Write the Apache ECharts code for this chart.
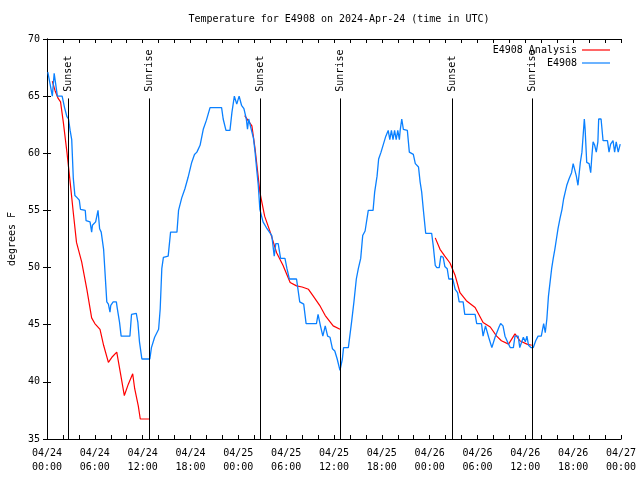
<!DOCTYPE html>
<html>
<head>
<meta charset="utf-8">
<script src="https://cdn.jsdelivr.net/npm/echarts@6/dist/echarts.min.js"></script>
<style>html,body{margin:0;padding:0;background:#fff}#c{width:640px;height:480px}</style>
</head>
<body>
<div id="c"></div>
<script>
// x values are hours since 04/24 00:00 UTC
const titleText = 'Temperature for E4908 on 2024-Apr-24 (time in UTC)';
const yAxisName = 'degrees F';
const xTickLabels = ['04/24\n00:00','04/24\n06:00','04/24\n12:00','04/24\n18:00','04/25\n00:00','04/25\n06:00','04/25\n12:00','04/25\n18:00','04/26\n00:00','04/26\n06:00','04/26\n12:00','04/26\n18:00','04/27\n00:00'];
const seriesNames = ['E4908 Analysis', 'E4908'];

const observed = [
[0.1,67.1],[0.4,66],[0.67,65],[0.9,67],[1.1,66],[1.3,65],[1.9,65],[2.2,64],[2.5,63.2],[2.7,63],[2.9,62],[3.1,61.2],[3.3,57.8],[3.5,56.3],[3.8,56.1],[4.05,55.9],[4.2,55.1],[4.8,55],[4.9,54.1],[5.4,54],[5.6,53.1],[5.7,53.7],[6.1,54],[6.4,55],[6.6,53.4],[6.8,53.1],[7.1,51.6],[7.3,49.3],[7.5,47],[7.7,46.8],[7.9,46.1],[8.0,46.7],[8.3,47],[8.7,47],[8.8,46.5],[9.1,45.2],[9.3,44],[10.4,44],[10.6,45.9],[11.2,46],[11.4,45.2],[11.6,43.5],[11.9,42],[12.9,42],[13.1,43],[13.5,43.9],[14.0,44.6],[14.2,46.4],[14.4,49.9],[14.6,50.9],[15.2,51],[15.5,53.1],[16.3,53.1],[16.5,55],[16.9,56.1],[17.3,56.9],[17.7,57.9],[18.15,59.2],[18.5,59.9],[18.8,60.1],[19.2,60.7],[19.6,62.1],[20.0,62.9],[20.45,64],[21.9,64],[22.1,63],[22.45,62],[22.95,62],[23.2,63.6],[23.5,65],[23.8,64.3],[24.1,65],[24.4,64.2],[24.7,63.9],[25.0,63],[25.15,62.1],[25.3,63],[25.5,62.9],[25.9,61.3],[26.1,60.1],[26.3,58.6],[26.5,57.2],[26.7,55.1],[27.1,54],[27.6,53.4],[28.2,52.8],[28.5,51],[28.7,52.1],[29.0,52.1],[29.3,50.8],[29.85,50.8],[30.1,49.9],[30.4,49],[31.3,49],[31.7,47],[32.2,46.8],[32.5,45.1],[33.8,45.1],[34.0,45.9],[34.3,44.9],[34.6,44],[34.9,44.9],[35.2,44],[35.5,43.9],[35.8,42.9],[36.1,42.7],[36.4,42],[36.75,41],[37.05,42],[37.2,43],[37.8,43],[38.2,45.2],[38.5,47],[38.8,49],[39.05,49.9],[39.35,50.8],[39.6,52.8],[39.9,53.2],[40.3,55],[40.9,55],[41.1,56.6],[41.4,58],[41.6,59.5],[41.9,60.1],[42.2,60.8],[42.5,61.5],[42.8,62],[43.0,61.2],[43.2,62],[43.4,61.2],[43.6,62],[43.8,61.2],[44.0,62],[44.2,61.2],[44.3,62],[44.5,63],[44.7,62.1],[45.2,62],[45.45,60.1],[45.95,59.9],[46.2,59.1],[46.6,58.8],[46.8,57.5],[47.0,56.6],[47.2,55.1],[47.4,53.7],[47.5,53],[48.25,53],[48.45,51.9],[48.7,50.2],[48.9,50],[49.2,50],[49.4,51],[49.7,50.9],[49.9,50.1],[50.2,49.9],[50.4,49],[50.9,49],[51.2,48.1],[51.5,47.8],[51.7,47],[52.2,47],[52.4,45.9],[53.7,45.9],[53.9,45.1],[54.5,45.1],[54.7,44],[55.0,44.9],[55.2,44.9],[55.4,43.9],[55.8,43],[56.0,43],[56.2,43.9],[56.4,43.9],[56.7,44.8],[56.9,45.1],[57.2,44.9],[57.45,44],[57.7,44],[57.9,43.3],[58.1,43],[58.5,43],[58.7,44],[59.1,44],[59.3,43],[59.5,43],[59.75,43.9],[60.0,43.5],[60.2,44],[60.4,43.2],[60.7,43],[61.0,43],[61.3,43.6],[61.6,44],[62.0,44],[62.3,45.1],[62.5,44.3],[62.7,45.5],[62.9,47.5],[63.1,48.7],[63.3,49.9],[63.5,50.8],[63.7,51.6],[63.9,52.5],[64.1,53.4],[64.35,54.3],[64.6,55.1],[64.8,56],[65.0,56.6],[65.2,57.2],[65.5,57.8],[65.8,58.3],[66.0,59.1],[66.2,59.1],[66.4,58],[66.6,57.2],[66.9,59.2],[67.1,60.1],[67.3,60.1],[67.4,63],[67.5,62.1],[67.7,59.2],[68.0,59.1],[68.2,58.3],[68.35,59.8],[68.5,61],[68.7,60.7],[68.9,60.1],[69.1,61],[69.2,63],[69.5,63],[69.75,61.1],[70.3,61.1],[70.5,60.1],[70.7,60.8],[71.0,61.1],[71.2,60.1],[71.4,61],[71.65,60.1],[71.9,60.8]
];

const analysis1 = [[0.67,66.3],[1.0,65.5],[1.4,64.8],[1.7,64.5],[2.05,62.7],[2.5,60.1],[2.9,57.5],[3.3,54.8],[3.7,52.2],[4.35,50.5],[5.0,48.1],[5.6,45.6],[6.0,45.1],[6.65,44.6],[7.1,43.2],[7.7,41.7],[8.2,42.2],[8.75,42.6],[9.2,40.8],[9.7,38.8],[10.2,39.8],[10.75,40.7],[11.0,39.4],[11.45,37.9],[11.7,36.75],[12.8,36.75]];
const analysis2 = [[24.8,63.3],[25.3,62.8],[25.7,62.4],[26.1,60.4],[26.4,58.5],[26.7,56.6],[27.3,54.5],[28.0,53.1],[28.8,51.3],[29.6,50.2],[30.5,48.7],[31.3,48.4],[32.0,48.3],[32.8,48.1],[33.4,47.5],[34.2,46.7],[34.9,45.8],[35.9,44.9],[36.75,44.6]];
const analysis3 = [[48.7,52.6],[49.3,51.6],[49.9,51],[50.55,50.4],[50.8,50.3],[51.2,49.3],[51.8,47.8],[52.6,47.1],[53.7,46.5],[54.7,45.2],[55.6,44.8],[56.4,44],[57.0,43.6],[57.9,43.3],[58.7,44.2],[59.3,43.6],[60.2,43.3],[60.8,43.2]];

const sunEventHours = [2.72, 12.83, 26.8, 36.75, 50.85, 60.87];
const sunEventNames = ['Sunset','Sunrise','Sunset','Sunrise','Sunset','Sunrise'];
const sunLineTop = 64.8;
const sunLabelBase = 65.3;

const FONT = 'DejaVu Sans Mono';
const analysis = analysis1.concat([[null,null]], analysis2, [[null,null]], analysis3);

const chart = echarts.init(document.getElementById('c'), null, {renderer:'canvas'});
const axisCommon = {
  axisLine:{show:true, lineStyle:{color:'#000', width:1}},
  axisTick:{show:true, inside:true, length:4, lineStyle:{color:'#000'}},
  splitLine:{show:false}
};
chart.setOption({
  animation:false,
  backgroundColor:'#fff',
  title:{text:titleText, left:334, textAlign:'center', top:9,
    textStyle:{fontFamily:FONT, fontSize:10, fontWeight:'normal', color:'#000'}},
  legend:{orient:'vertical', align:'right', right:25, top:40, itemWidth:28, itemHeight:1.2, itemGap:3,
    data:[{name:seriesNames[0], icon:'rect'},{name:seriesNames[1], icon:'rect'}],
    textStyle:{fontFamily:FONT, fontSize:10, color:'#000'}},
  grid:{left:47, right:19, top:39, bottom:41, containLabel:false, outerBoundsMode:'none'},
  xAxis:[
    Object.assign({type:'value', min:0, max:72, interval:2, position:'bottom',
      axisLabel:{formatter:function(v){return v%6===0 ? xTickLabels[v/6] : '';}, fontFamily:FONT, fontSize:10, color:'#000', lineHeight:14, margin:7, showMinLabel:true, showMaxLabel:true, hideOverlap:false}}, axisCommon),
    Object.assign({type:'value', min:0, max:72, interval:2, position:'top', axisLabel:{show:false}}, axisCommon)
  ],
  yAxis:[
    Object.assign({type:'value', min:35, max:70, interval:5, position:'left',
      name:yAxisName, nameLocation:'middle', nameRotate:90, nameGap:30,
      nameTextStyle:{fontFamily:FONT, fontSize:10, color:'#000'},
      axisLabel:{fontFamily:FONT, fontSize:10, color:'#000', margin:7}}, axisCommon),
    Object.assign({type:'value', min:35, max:70, interval:5, position:'right', axisLabel:{show:false}}, axisCommon)
  ],
  series:[
    {name:seriesNames[0], type:'line', data:analysis, symbol:'none', connectNulls:false,
      lineStyle:{color:'#ff0000', width:1.2}, itemStyle:{color:'#ff0000'}, z:2},
    {name:seriesNames[1], type:'line', data:observed, symbol:'none',
      lineStyle:{color:'#0a80ff', width:1.3}, itemStyle:{color:'#0a80ff'}, z:3,
      markLine:{silent:true, symbol:['none','none'], label:{show:false},
        lineStyle:{color:'#000', width:1, type:'solid'},
        data: sunEventHours.map(h => [{coord:[h,35]},{coord:[h,sunLineTop]}])}},
    {name:'sun', type:'scatter', symbol:'circle', symbolSize:0, silent:true,
      itemStyle:{color:'#000', opacity:1},
      data: sunEventHours.map((h,i) => ({value:[h,sunLabelBase], name:sunEventNames[i]})),
      label:{show:true, position:'inside', rotate:90, align:'left', verticalAlign:'middle', offset:[1,0], opacity:1,
        formatter:function(p){return p.name;}, fontFamily:FONT, fontSize:10, color:'#000', textBorderWidth:0}, z:4}
  ]
});
</script>
</body>
</html>
